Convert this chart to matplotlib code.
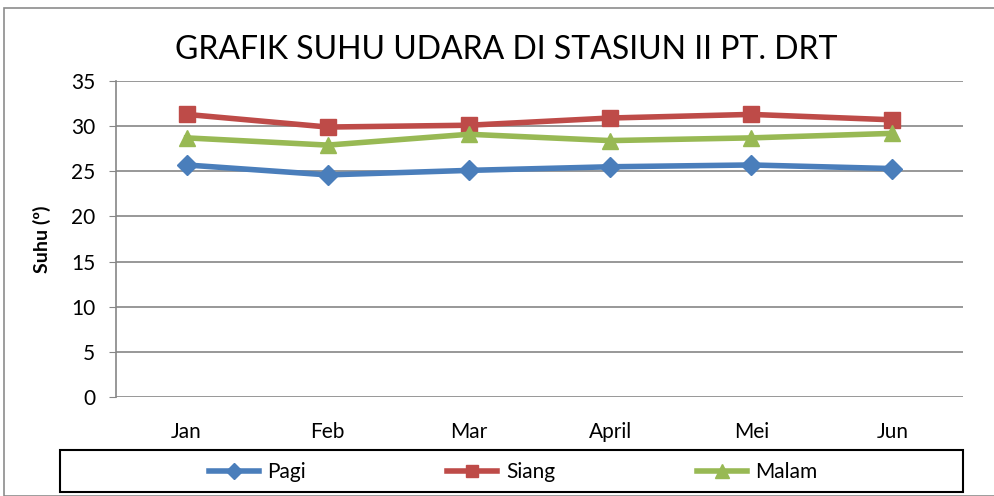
import matplotlib.pyplot as plt
from matplotlib.patches import Rectangle

months = ["Jan", "Feb", "Mar", "April", "Mei", "Jun"]
pagi = [25.7, 24.6, 25.1, 25.5, 25.7, 25.3]
siang = [31.3, 29.9, 30.1, 30.9, 31.3, 30.7]
malam = [28.7, 27.9, 29.1, 28.4, 28.7, 29.2]

W, H = 995, 496
plt.rcParams["font.family"] = ["Lato", "DejaVu Sans"]
fig = plt.figure(figsize=(W / 100, H / 100), dpi=100)

# outer chart border (cropped at right/bottom)
fig.patches.append(Rectangle((4 / W, 0), 1.0, (H - 8) / H, transform=fig.transFigure,
                             fill=False, edgecolor="#8c8c8c", linewidth=1.2))
# legend box
fig.patches.append(Rectangle((60 / W, 4 / H), (963 - 60) / W, 42 / H,
                             transform=fig.transFigure, fill=False, edgecolor="black", linewidth=1.5))

ax = fig.add_axes([116 / W, (H - 397) / H, (963 - 116) / W, (397 - 81) / H])
x = range(len(months))
ax.plot(x, pagi, color="#4a7ebb", linewidth=4, marker="D", markersize=10, label="Pagi")
ax.plot(x, siang, color="#be4b48", linewidth=4, marker="s", markersize=11, label="Siang")
ax.plot(x, malam, color="#98b954", linewidth=4, marker="^", markersize=12, label="Malam")

ax.set_xlim(-0.5, len(months) - 0.5)
ax.set_ylim(0, 35)
ax.set_yticks(range(0, 36, 5))
ax.set_xticks(list(x))
ax.set_xticklabels(months)
ax.yaxis.grid(True, color="#868686", linewidth=1.2)
ax.set_axisbelow(True)
for s in ["top", "right", "bottom"]:
    ax.spines[s].set_visible(False)
ax.spines["left"].set_color("#868686")
ax.spines["left"].set_linewidth(1.2)
ax.tick_params(axis="y", length=5, color="#868686", labelsize=15, pad=10)
ax.tick_params(axis="x", length=0, labelsize=15, pad=18)
ax.set_ylabel("Suhu (º)", fontsize=14, fontweight="bold", labelpad=14)

fig.text(506 / W, 1 - 50 / H, "GRAFIK SUHU UDARA DI STASIUN II PT. DRT", ha="center", va="center",
         fontsize=23)

leg = fig.legend(loc="center", bbox_to_anchor=(513 / W, 24 / H),
                 ncol=3, frameon=False, fontsize=15, handlelength=2.4,
                 columnspacing=6.8, handletextpad=0.4, markerscale=0.8)

fig.savefig("out.png", dpi=100)
